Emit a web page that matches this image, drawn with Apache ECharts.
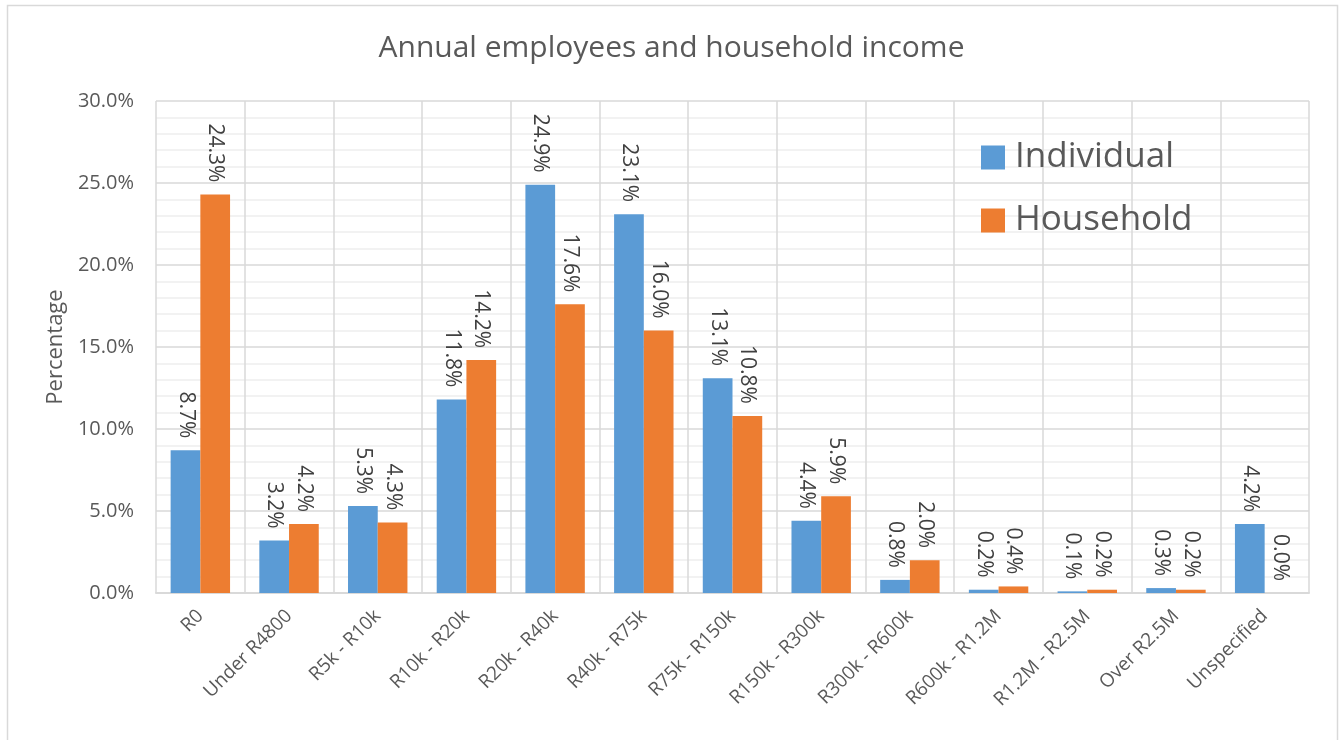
<!DOCTYPE html>
<html>
<head>
<meta charset="utf-8">
<script src="https://cdn.jsdelivr.net/npm/echarts@6/dist/echarts.min.js"></script>
<style>
  html, body { margin: 0; padding: 0; background: #ffffff; }
  #chart { width: 1343px; height: 740px; }
</style>
</head>
<body>
<div id="chart"></div>
<script>
// Income brackets (annual)
const categories = ['R0', 'Under R4800', 'R5k - R10k', 'R10k - R20k', 'R20k - R40k', 'R40k - R75k',
  'R75k - R150k', 'R150k - R300k', 'R300k - R600k', 'R600k - R1.2M', 'R1.2M - R2.5M', 'Over R2.5M', 'Unspecified'];
// Share of people in each bracket, percent
const individual = [8.7, 3.2, 5.3, 11.8, 24.9, 23.1, 13.1, 4.4, 0.8, 0.2, 0.1, 0.3, 4.2];
const household  = [24.3, 4.2, 4.3, 14.2, 17.6, 16.0, 10.8, 5.9, 2.0, 0.4, 0.2, 0.2, 0.0];
const yTicks = [0, 5, 10, 15, 20, 25, 30];

const FONT = '"Open Sans", "Noto Sans", sans-serif';
const TEXT = '#595959';

const chart = echarts.init(document.getElementById('chart'), null, { renderer: 'canvas' });

const barLabel = {
  show: true,
  position: 'top',
  distance: 12,
  rotate: -90,
  align: 'right',
  verticalAlign: 'middle',
  fontFamily: FONT,
  fontSize: 21,
  color: '#404040',
  formatter: p => p.value.toFixed(1) + '%'
};

chart.setOption({
  animation: false,
  backgroundColor: '#ffffff',
  textStyle: { fontFamily: FONT },
  graphic: [{
    type: 'rect',
    shape: { x: 7.5, y: 5.5, width: 1330, height: 760 },
    style: { fill: 'none', stroke: '#d9d9d9', lineWidth: 1.5 },
    silent: true,
    z: -10
  }],
  title: {
    text: 'Annual employees and household income',
    left: 'center',
    top: 28,
    textStyle: { fontFamily: FONT, fontSize: 30, fontWeight: 'normal', color: TEXT }
  },
  legend: {
    orient: 'vertical',
    left: 976,
    top: 135,
    itemGap: 28,
    itemWidth: 24,
    itemHeight: 24,
    icon: 'rect',
    textStyle: { fontFamily: FONT, fontSize: 35, color: TEXT, padding: [0, 0, 0, 5] },
    data: ['Individual', 'Household']
  },
  grid: { left: 156, right: 34, top: 101, bottom: 147, containLabel: false },
  xAxis: {
    type: 'category',
    data: categories,
    boundaryGap: true,
    axisLine: { show: true, lineStyle: { color: '#d9d9d9', width: 2 } },
    axisTick: { show: false },
    splitLine: { show: true, lineStyle: { color: '#d9d9d9', width: 1.5 } },
    axisLabel: {
      interval: 0,
      rotate: 45,
      margin: 20,
      fontFamily: FONT,
      fontSize: 19,
      color: TEXT
    }
  },
  yAxis: {
    type: 'value',
    min: yTicks[0],
    max: yTicks[yTicks.length - 1],
    interval: 5,
    name: 'Percentage',
    nameLocation: 'middle',
    nameGap: 86,
    nameRotate: 90,
    nameTextStyle: { fontFamily: FONT, fontSize: 22, color: TEXT },
    axisLine: { show: false },
    axisTick: { show: false },
    axisLabel: {
      margin: 22,
      fontFamily: FONT,
      fontSize: 20,
      color: TEXT,
      formatter: v => v.toFixed(1) + '%'
    },
    splitLine: { show: true, lineStyle: { color: '#d9d9d9', width: 1.5 } },
    minorTick: { show: false, splitNumber: 5 },
    minorSplitLine: { show: true, lineStyle: { color: '#eeeeee', width: 1.5 } }
  },
  series: [
    {
      name: 'Individual',
      type: 'bar',
      data: individual,
      barGap: '0%',
      barCategoryGap: '33%',
      itemStyle: { color: '#5B9BD5' },
      label: barLabel
    },
    {
      name: 'Household',
      type: 'bar',
      data: household,
      barGap: '0%',
      barCategoryGap: '33%',
      itemStyle: { color: '#ED7D31' },
      label: barLabel
    }
  ]
});
</script>
</body>
</html>
